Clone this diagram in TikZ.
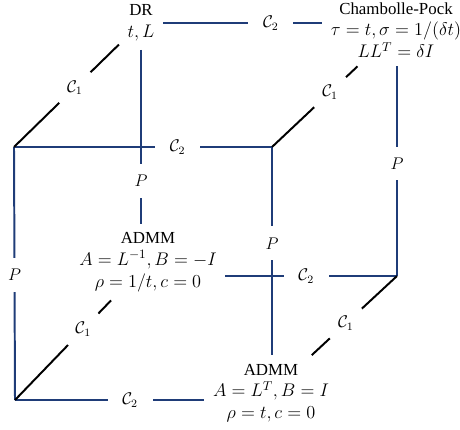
\RequirePackage{fix-cm}
\documentclass[tikz,border=0pt]{standalone}
\usepackage{fontspec}
\setmainfont{Liberation Serif}
\definecolor{cubeblue}{HTML}{1F3C78}
\newcommand{\eqline}[1]{{\fontsize{13}{15.5}\selectfont$#1$}}
\tikzset{
	method/.style={align=center, inner sep=6pt, font=\fontsize{12}{15.5}\selectfont},
	edgeP/.style={draw=cubeblue, line width=1.4pt},
	edgeC/.style={draw=black, line width=1.4pt},
	hgap/.style={fill=white, inner sep=1pt, minimum width=32pt, font=\fontsize{12}{14.4}\selectfont},
	vgap/.style={fill=white, inner sep=1pt, minimum height=24pt, font=\fontsize{12}{14.4}\selectfont},
	dgap/.style={fill=white, circle, inner sep=1pt, minimum size=31pt, font=\fontsize{12}{14.4}\selectfont}
}
\begin{document}
\begin{tikzpicture}[x=0.025cm, y=-0.025cm]
		\useasboundingbox (0,0) rectangle (460,429);

		\coordinate (ftl) at (14,147);
		\coordinate (ftr) at (272,147);
		\coordinate (fbl) at (15,400);
		\coordinate (bbr) at (397,276);

		\node[method] (DR) at (141,23) {DR\\\eqline{t, L}};
		\node[method] (CP) at (396,30) {Chambolle-Pock\\\eqline{\tau = t, \sigma = 1/(\delta t)}\\\eqline{LL^T = \delta I}};
		\node[method] (admmA) at (148,262) {ADMM\\\eqline{A = L^{-1}, B = -I}\\\eqline{\rho = 1/t, c = 0}};
		\node[method] (admmB) at (271,393) {ADMM\\\eqline{A = L^T, B = I}\\\eqline{\rho = t, c = 0}};

		% back face
		\draw[edgeP] (DR) -- (DR -| CP.west) node[hgap, pos=0.677] {$\mathcal{C}_2$};
		\draw[edgeP] (DR) -- (DR |- admmA.north) node[vgap, pos=0.754] {$P$};
		\draw[edgeP] (CP.south -| bbr) -- (bbr) node[vgap, pos=0.463] {$P$};
		\draw[edgeP] (bbr -| admmA.east) -- (bbr) node[hgap, pos=0.471] {$\mathcal{C}_2$};

		% front face
		\draw[edgeP] (ftl) -- (ftr) node[hgap, pos=0.634] {$\mathcal{C}_2$};
		\draw[edgeP] (ftl) -- (fbl) node[vgap, pos=0.506] {$P$};
		\draw[edgeP] (fbl) -- (fbl -| admmB.west) node[hgap, pos=0.608] {$\mathcal{C}_2$};
		\draw[edgeP] (ftr) -- (ftr |- admmB.north) node[vgap, pos=0.463] {$P$};

		% depth edges
		\draw[edgeC] (ftl) -- (DR) node[dgap, pos=0.58] {$\mathcal{C}_1$};
		\draw[edgeC] (ftr) -- (CP) node[dgap, pos=0.68] {$\mathcal{C}_1$};
		\draw[edgeC] (fbl) -- (admmA) node[dgap, pos=0.71] {$\mathcal{C}_1$};
		\draw[edgeC] (bbr) -- (admmB) node[dgap, pos=0.60] {$\mathcal{C}_1$};
	\end{tikzpicture}
\end{document}
